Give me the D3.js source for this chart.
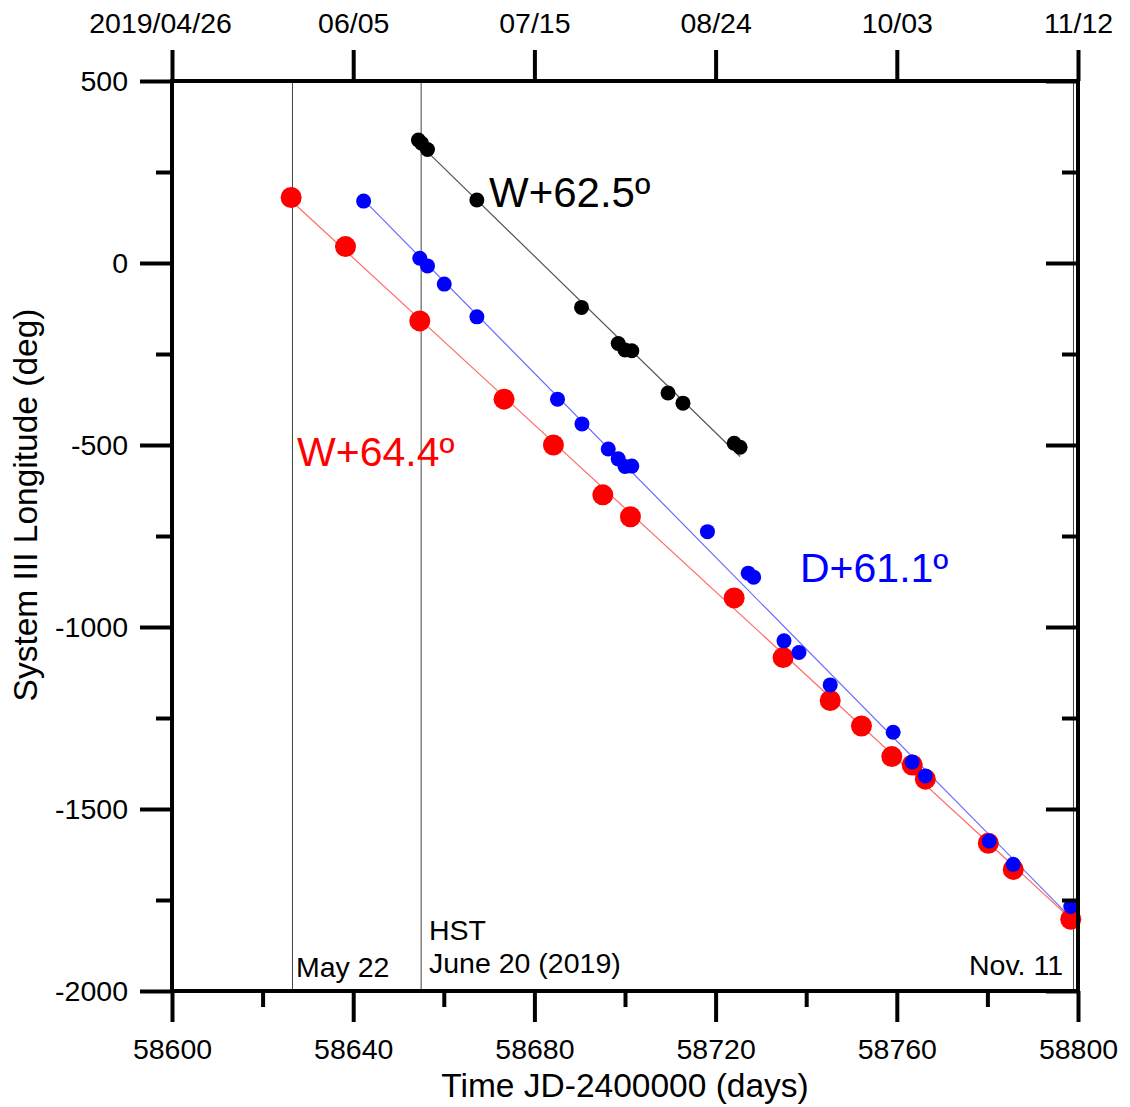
<!DOCTYPE html>
<html>
<head>
<meta charset="utf-8">
<script src="https://cdn.jsdelivr.net/npm/d3@7"></script>
<style>
  body { margin: 0; background: #fff; }
  svg { font-family: "Liberation Sans", Arial, sans-serif; }
</style>
</head>
<body>
<svg id="chart" width="1130" height="1107"></svg>
<script>
// W+64.4 (red)
const redDays = [58626.3, 58638.3, 58654.7, 58673.3, 58684.2, 58695.1, 58701.2, 58724.1,
                 58734.9, 58745.3, 58752.2, 58758.9, 58763.4, 58766.3, 58780.2, 58785.7, 58798.4];
const redLon  = [180, 45, -159, -374, -500, -637, -697, -920,
                 -1084, -1202, -1272, -1356, -1379, -1418, -1594, -1666, -1803];

// D+61.1 (blue)
const blueDays = [58642.3, 58654.7, 58656.4, 58660.1, 58667.3, 58685.1, 58690.5, 58696.3,
                  58698.5, 58700.0, 58701.5, 58718.2, 58727.2, 58728.4, 58735.1, 58738.4,
                  58745.3, 58759.2, 58763.4, 58766.3, 58780.4, 58785.7, 58798.4];
const blueLon  = [170, 13, -8, -58, -148, -374, -442, -511,
                  -538, -559, -558, -738, -852, -863, -1038, -1070,
                  -1159, -1289, -1371, -1409, -1588, -1652, -1768];

// W+62.5 (black)
const blackDays = [58654.4, 58655.1, 58656.4, 58667.3, 58690.4, 58698.5, 58700.0, 58701.5,
                   58709.5, 58712.8, 58724.1, 58725.4];
const blackLon  = [338, 329, 312, 173, -122, -221, -239, -241, -357, -385, -495, -506];

const xMajor = [58600, 58640, 58680, 58720, 58760, 58800];
const xMinor = [58620, 58660, 58700, 58740, 58780];
const topLabels = ["2019/04/26", "06/05", "07/15", "08/24", "10/03", "11/12"];
const yMajor = [500, 0, -500, -1000, -1500, -2000];
const yMinor = [250, -250, -750, -1250, -1750];
const markerDays = [58626.6, 58655, 58799];

const pLeft = 172, pRight = 1078, pTop = 81, pBottom = 991;
const svg = d3.select("#chart");

const x = d3.scaleLinear().domain([58600, 58800]).range([pLeft, pRight]);
const y = d3.scaleLinear().domain([-2000, 500]).range([pBottom, pTop]);

// least squares drift line
function fit(xs, ys) {
  const mx = d3.mean(xs), my = d3.mean(ys);
  let num = 0, den = 0;
  xs.forEach((v, i) => { num += (v - mx) * (ys[i] - my); den += (v - mx) * (v - mx); });
  const b = num / den;
  return t => my + b * (t - mx);
}

// vertical markers
svg.append("g").selectAll("line").data(markerDays).join("line")
  .attr("x1", d => x(d)).attr("x2", d => x(d))
  .attr("y1", pTop).attr("y2", pBottom)
  .attr("stroke", "#444").attr("stroke-width", 1);

const series = [
  {days: redDays, lon: redLon, col: "#ff0000", line: "#ff6a6a", r: 10.5},
  {days: blueDays, lon: blueLon, col: "#0000ff", line: "#6a6aff", r: 7.5},
  {days: blackDays, lon: blackLon, col: "#000000", line: "#555555", r: 7.5}
];

series.forEach(s => {
  const f = fit(s.days, s.lon);
  const x0 = d3.min(s.days), x1 = d3.max(s.days);
  svg.append("line")
    .attr("x1", x(x0)).attr("y1", y(f(x0)))
    .attr("x2", x(x1)).attr("y2", y(f(x1)))
    .attr("stroke", s.line).attr("stroke-width", 1.2);
});

series.forEach(s => {
  svg.append("g").selectAll("circle").data(s.days).join("circle")
    .attr("cx", d => x(d))
    .attr("cy", (d, i) => y(s.lon[i]))
    .attr("r", s.r)
    .attr("fill", s.col);
});

// axes
const plain = d => String(d);
function styleAxis(g, fs) {
  g.select(".domain").remove();
  g.selectAll(".tick line").attr("stroke", "#000").attr("stroke-width", 4);
  g.selectAll("text").attr("font-size", fs).attr("fill", "#000")
    .attr("font-family", "'Liberation Sans', Arial, sans-serif");
}

svg.append("g").attr("transform", `translate(0,${pBottom})`)
  .call(d3.axisBottom(x).tickValues(xMajor).tickSize(31).tickPadding(17).tickFormat(plain))
  .call(g => styleAxis(g, 28.5));
svg.append("g").attr("transform", `translate(0,${pBottom})`)
  .call(d3.axisBottom(x).tickValues(xMinor).tickSize(16).tickFormat(""))
  .call(g => styleAxis(g, 28));

svg.append("g").attr("transform", `translate(0,${pTop})`)
  .call(d3.axisTop(x).tickValues(xMajor).tickSize(31).tickPadding(17).tickFormat((d, i) => topLabels[i]))
  .call(g => styleAxis(g, 28.5))
  .call(g => g.selectAll("text").attr("dx", (d, i) => i === 0 ? -12 : 0));

svg.append("g").attr("transform", `translate(${pLeft},0)`)
  .call(d3.axisLeft(y).tickValues(yMajor).tickSize(32).tickPadding(12).tickFormat(plain))
  .call(g => styleAxis(g, 28.5));
svg.append("g").attr("transform", `translate(${pLeft},0)`)
  .call(d3.axisLeft(y).tickValues(yMinor).tickSize(16).tickFormat(""))
  .call(g => styleAxis(g, 28));

svg.append("g").attr("transform", `translate(${pRight},0)`)
  .call(d3.axisRight(y).tickValues(yMajor).tickSize(-32).tickFormat(""))
  .call(g => styleAxis(g, 28));
svg.append("g").attr("transform", `translate(${pRight},0)`)
  .call(d3.axisRight(y).tickValues(yMinor).tickSize(-16).tickFormat(""))
  .call(g => styleAxis(g, 28));

svg.append("rect")
  .attr("x", pLeft).attr("y", pTop)
  .attr("width", pRight - pLeft).attr("height", pBottom - pTop)
  .attr("fill", "none").attr("stroke", "#000").attr("stroke-width", 4);

// titles
svg.append("text")
  .attr("x", (pLeft + pRight) / 2).attr("y", 1097)
  .attr("text-anchor", "middle").attr("font-size", 33.5)
  .text("Time JD-2400000 (days)");

svg.append("text")
  .attr("transform", "translate(37,505) rotate(-90)")
  .attr("text-anchor", "middle").attr("font-size", 33.5)
  .text("System III Longitude (deg)");

// annotations
svg.append("text").attr("x", 489).attr("y", 207).attr("font-size", 42)
  .attr("fill", "#000").text("W+62.5º");
svg.append("text").attr("x", 297).attr("y", 466).attr("font-size", 41)
  .attr("fill", "#ff0000").text("W+64.4º");
svg.append("text").attr("x", 800).attr("y", 582).attr("font-size", 41)
  .attr("fill", "#0000ff").text("D+61.1º");

svg.append("text").attr("x", 296).attr("y", 977).attr("font-size", 28.5).text("May 22");
svg.append("text").attr("x", 429).attr("y", 940).attr("font-size", 28.5).text("HST");
svg.append("text").attr("x", 429).attr("y", 973).attr("font-size", 28.5).text("June 20 (2019)");
svg.append("text").attr("x", 1063).attr("y", 975).attr("font-size", 28.5)
  .attr("text-anchor", "end").text("Nov. 11");
</script>
</body>
</html>
